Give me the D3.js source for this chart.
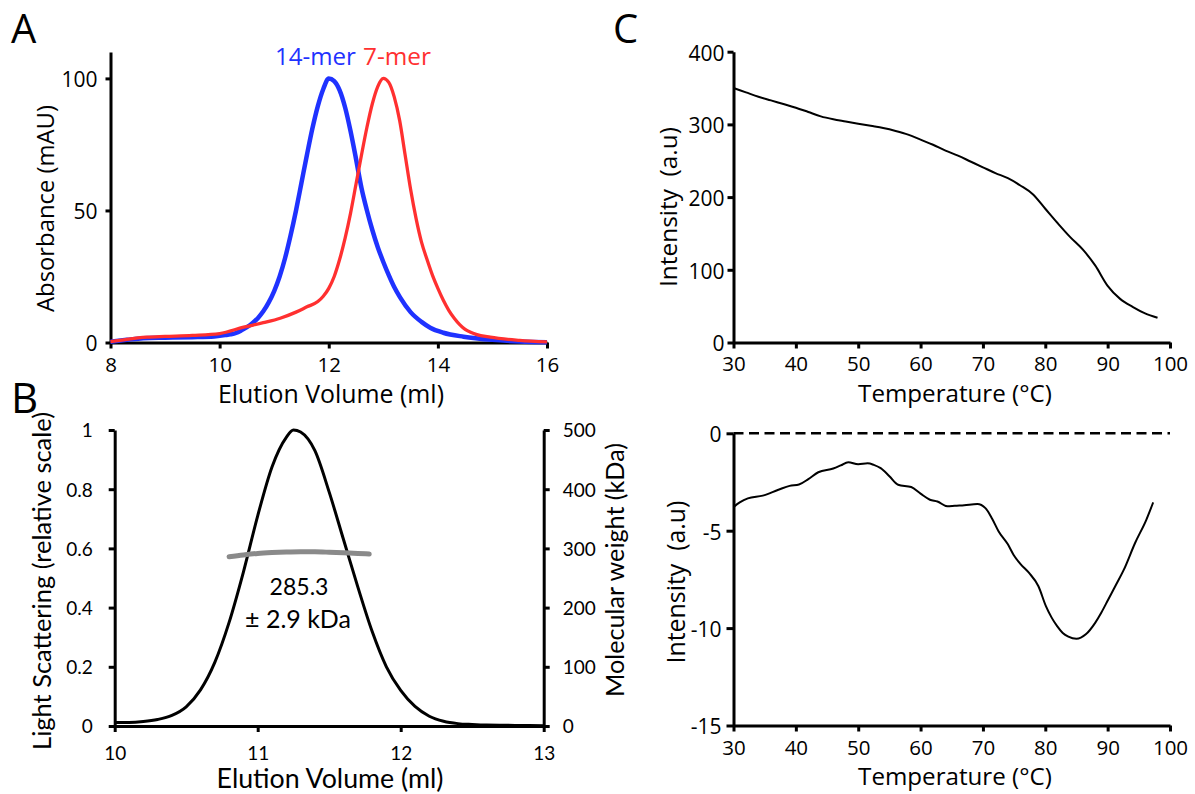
<!DOCTYPE html>
<html><head><meta charset="utf-8">
<script src="https://cdn.jsdelivr.net/npm/d3@7"></script>
<style>
body{margin:0;background:#fff;}
</style></head><body>
<svg id="fig" width="1195" height="794" style="display:block;background:#fff"></svg>
<script>
// ===== Panel A data =====
const aTicksX = [8, 10, 12, 14, 16];
const aTicksY = [0, 50, 100];
const seriesLabels = ["14-mer", "7-mer"];
const blueX = [8.0,8.3,8.6,9.0,9.5,9.9,10.1,10.2,10.3,10.4,10.5,10.6,10.7,10.8,10.9,11.0,11.1,11.2,11.3,11.4,11.5,11.6,11.7,11.8,11.9,12.0,12.1,12.2,12.3,12.4,12.5,12.6,12.7,12.8,12.9,13.0,13.1,13.2,13.31,13.5,13.7,13.86,14.1,14.47,15.0,15.5,16.0];
const blueY = [0.3,1.0,1.6,1.8,2.0,2.3,2.8,3.1,3.6,4.6,5.8,7.3,9.2,11.8,15.2,19.5,25,32,40.5,50,60.5,71,81,89.5,96,100,99,95.5,89,80,69.5,58.5,50,42.5,36,30.5,25.5,21,17,11.5,7.8,5.6,3.7,2.2,1.0,0.4,0.1];
const redX = [8.0,8.3,8.67,9.0,9.5,10.0,10.44,10.8,11.11,11.4,11.6,11.8,11.9,12.0,12.1,12.2,12.3,12.4,12.5,12.6,12.7,12.8,12.9,13.0,13.1,13.2,13.3,13.4,13.5,13.6,13.7,13.8,13.9,14.0,14.1,14.2,14.3,14.4,14.5,14.6,14.7,14.96,15.5,16.0];
const redY = [0.3,1.2,2.0,2.3,2.7,3.4,5.8,7.5,9.2,11.5,13.5,15.5,17.5,20.5,25,31.5,39.5,49,60,71,81.5,90.5,97,100,98.5,93,84,71,58,47,38,31.5,25.5,20.5,16,12.2,9.2,6.8,5.0,3.9,3.1,2.0,0.8,0.2];

// ===== Panel B data =====
const bTicksX = [10, 11, 12, 13];
const bTicksLeft = [0, 0.2, 0.4, 0.6, 0.8, 1];
const bTicksRight = [0, 100, 200, 300, 400, 500];
const lsX = [10.0,10.1,10.2,10.3,10.4,10.5,10.6,10.7,10.8,10.9,11.0,11.1,11.2,11.25,11.3,11.4,11.5,11.6,11.7,11.8,11.9,12.0,12.1,12.2,12.3,12.4,12.5,12.6,12.8,13.0];
const lsY = [0.012,0.012,0.015,0.022,0.036,0.065,0.122,0.215,0.35,0.52,0.71,0.875,0.975,1.0,0.993,0.93,0.79,0.63,0.47,0.32,0.2,0.12,0.066,0.033,0.016,0.008,0.005,0.003,0.002,0.001];
const mwX = [10.8,10.9,11.0,11.1,11.2,11.3,11.4,11.5,11.6,11.7,11.78];
const mwY = [286,289,291.5,293,294,294.5,294.3,293.5,292.5,291.5,290.5];
const mwLabel = ["285.3", "\u00B1 2.9 kDa"];

// ===== Panel C data =====
const cTicksX = [30, 40, 50, 60, 70, 80, 90, 100];
const cTopTicksY = [0, 100, 200, 300, 400];
const cBotTicksY = [0, -5, -10, -15];
const tempTopX = [30,32,34,36,38,40,42,44,46,48,50,52,54,56,58,60,62,64,66,68,70,72,74,76,78,80,82,84,86,88,90,92,94,96,98];
const tempTopY = [350,344,338,333,328,323,317,311,307,304,301,298,295,291,286,279,272,264,257,249,241,233,226,216,204,184,164,145,128,106,78,60,49,40,34];
const tempBotX = [30,31,32.3,34.7,37.2,39,40.5,42,43.6,46,47.2,48.4,50,51.5,52.5,53.6,55,56.4,58.5,60,61.5,62.7,64.3,65.5,67,69.1,70.4,71.5,72.5,74,74.9,76,77.4,78.9,80.1,81,81.9,82.8,83.7,85,86.5,88,89,90.1,91.3,92.6,94.4,96.2,97.3];
const tempBotY = [-3.79,-3.55,-3.34,-3.2,-2.9,-2.7,-2.63,-2.35,-2.0,-1.81,-1.65,-1.48,-1.59,-1.54,-1.62,-1.79,-2.2,-2.64,-2.76,-3.1,-3.41,-3.5,-3.75,-3.72,-3.69,-3.63,-3.84,-4.4,-5.03,-5.7,-6.23,-6.7,-7.17,-7.85,-8.87,-9.45,-9.9,-10.25,-10.44,-10.55,-10.32,-9.73,-9.2,-8.53,-7.8,-7.0,-5.63,-4.44,-3.55];

// ===== drawing =====
const svg = d3.select("#fig");
const FA = "'Open Sans', 'DejaVu Sans', sans-serif";
const FB = "Lato, 'Open Sans', sans-serif";

function styleAxis(g, font, size) {
  g.attr("font-size", null).attr("font-family", null);
  g.select(".domain").attr("stroke", "#000").attr("stroke-width", 3);
  g.selectAll(".tick line").attr("stroke", "#000").attr("stroke-width", 3);
  g.selectAll(".tick text").attr("fill", "#000").style("font-family", font).style("font-size", size + "px");
}
function fit(sel, target) {
  const L = sel.node().getComputedTextLength();
  const fs = parseFloat(sel.style("font-size"));
  sel.style("font-size", (fs * target / L) + "px");
  return sel;
}
function label(txt, x, y, font, size, opts = {}) {
  const t = svg.append("text").text(txt)
    .attr("text-anchor", opts.anchor || "middle")
    .attr("fill", opts.color || "#000")
    .style("font-family", font).style("font-size", size + "px")
    .style("white-space", "pre");
  if (opts.rotate) t.attr("transform", `translate(${x},${y}) rotate(-90)`);
  else t.attr("x", x).attr("y", y);
  if (opts.fit) fit(t, opts.fit);
  return t;
}
const fmt = d => String(d);

// ---------- Panel A ----------
const xA = d3.scaleLinear([8, 16], [110.5, 547]);
const yA = d3.scaleLinear([0, 110], [342.5, 52]);
const gAx = svg.append("g").attr("transform", `translate(0,${yA(0)})`)
  .call(d3.axisBottom(xA).tickValues(aTicksX).tickFormat(fmt).tickSize(6).tickSizeOuter(0));
styleAxis(gAx, FA, 20.5);
gAx.selectAll(".tick text").attr("y", 29).attr("dy", null);
const gAy = svg.append("g").attr("transform", `translate(${xA(8)},0)`)
  .call(d3.axisLeft(yA).tickValues(aTicksY).tickFormat(fmt).tickSize(5).tickSizeOuter(0));
styleAxis(gAy, FA, 21);
gAy.selectAll(".tick text").attr("x", -13).attr("dy", "0.4em");

const lineA = d3.line().x(d => xA(d[0])).y(d => yA(d[1])).curve(d3.curveMonotoneX);
svg.append("path").datum(blueX.map((x, i) => [x, blueY[i]]))
  .attr("d", lineA).attr("fill", "none").attr("stroke", "#1f32ff").attr("stroke-width", 4.5).attr("stroke-linejoin", "round");
svg.append("path").datum(redX.map((x, i) => [x, redY[i]]))
  .attr("d", lineA).attr("fill", "none").attr("stroke", "#ff3030").attr("stroke-width", 3.3).attr("stroke-linejoin", "round");

label(seriesLabels[0], 275, 65, FA, 24, {anchor: "start", color: "#1f32ff", fit: 81});
label(seriesLabels[1], 363, 65, FA, 24, {anchor: "start", color: "#ff3030", fit: 68});
label("Elution Volume (ml)", 331, 403, FA, 23, {fit: 226});
label("Absorbance (mAU)", 54, 208.5, FA, 23, {rotate: true, fit: 207});
label("A", 11, 43, FA, 40, {anchor: "start"});

// ---------- Panel B ----------
const xB = d3.scaleLinear([10, 13], [114.7, 543.7]);
const yB = d3.scaleLinear([0, 1], [726, 430]);
const yBR = d3.scaleLinear([0, 500], [726, 430]);
const gBx = svg.append("g").attr("transform", `translate(0,${yB(0)})`)
  .call(d3.axisBottom(xB).tickValues(bTicksX).tickFormat(fmt).tickSize(6).tickSizeOuter(0));
styleAxis(gBx, FB, 19);
gBx.selectAll(".tick text").attr("y", 34).attr("dy", null);
const gBl = svg.append("g").attr("transform", `translate(${xB(10)},0)`)
  .call(d3.axisLeft(yB).tickValues(bTicksLeft).tickFormat(fmt).tickSize(6).tickSizeOuter(0));
styleAxis(gBl, FB, 19);
gBl.selectAll(".tick text").attr("x", -22).attr("dy", "0.36em");
const gBr = svg.append("g").attr("transform", `translate(${xB(13)},0)`)
  .call(d3.axisRight(yBR).tickValues(bTicksRight).tickFormat(fmt).tickSize(6).tickSizeOuter(0));
styleAxis(gBr, FB, 19);
gBr.selectAll(".tick text").attr("x", 19).attr("dy", "0.36em");

const lineB = d3.line().x(d => xB(d[0])).y(d => yB(d[1])).curve(d3.curveMonotoneX);
svg.append("path").datum(lsX.map((x, i) => [x, lsY[i]]))
  .attr("d", lineB).attr("fill", "none").attr("stroke", "#000").attr("stroke-width", 3);
const lineMW = d3.line().x(d => xB(d[0])).y(d => yBR(d[1])).curve(d3.curveMonotoneX);
svg.append("path").datum(mwX.map((x, i) => [x, mwY[i]]))
  .attr("d", lineMW).attr("fill", "none").attr("stroke", "#8a8a8a").attr("stroke-width", 5).attr("stroke-linecap", "round");

label(mwLabel[0], 299, 595, FB, 24, {fit: 59});
label(mwLabel[1], 298, 628, FB, 24, {fit: 106});
label("Elution Volume (ml)", 330, 788, FB, 24, {fit: 227});
label("Light Scattering (relative scale)", 51, 581, FB, 24, {rotate: true, fit: 338});
label("Molecular weight (kDa)", 624, 570, FB, 24, {rotate: true, fit: 254});
label("B", 11, 413, FA, 42, {anchor: "start"});

// ---------- Panel C ----------
const xC = d3.scaleLinear([30, 100], [733.5, 1170]);
const yCt = d3.scaleLinear([0, 400], [342.5, 51.7]);
const yCb = d3.scaleLinear([-15, 0], [725.5, 433.3]);

const gCtx = svg.append("g").attr("transform", `translate(0,${yCt(0)})`)
  .call(d3.axisBottom(xC).tickValues(cTicksX).tickFormat(fmt).tickSize(6).tickSizeOuter(0));
styleAxis(gCtx, FA, 20.5);
gCtx.selectAll(".tick text").attr("y", 28).attr("dy", null);
const gCty = svg.append("g").attr("transform", `translate(${xC(30)},0)`)
  .call(d3.axisLeft(yCt).tickValues(cTopTicksY).tickFormat(fmt).tickSize(6).tickSizeOuter(0));
styleAxis(gCty, FA, 21);
gCty.selectAll(".tick text").attr("x", -9).attr("dy", "0.4em");

const gCbx = svg.append("g").attr("transform", `translate(0,${yCb(-15)})`)
  .call(d3.axisBottom(xC).tickValues(cTicksX).tickFormat(fmt).tickSize(6).tickSizeOuter(0));
styleAxis(gCbx, FA, 20.5);
gCbx.selectAll(".tick text").attr("y", 29.5).attr("dy", null);
const gCby = svg.append("g").attr("transform", `translate(${xC(30)},0)`)
  .call(d3.axisLeft(yCb).tickValues(cBotTicksY).tickFormat(fmt).tickSize(7).tickSizeOuter(0));
styleAxis(gCby, FA, 21);
gCby.selectAll(".tick text").attr("x", -12).attr("dy", "0.4em");

svg.append("line").attr("x1", xC(30)).attr("x2", xC(100)).attr("y1", yCb(0)).attr("y2", yCb(0))
  .attr("stroke", "#000").attr("stroke-width", 2.5).attr("stroke-dasharray", "10,5.5");

const lineCt = d3.line().x(d => xC(d[0])).y(d => yCt(d[1])).curve(d3.curveMonotoneX);
svg.append("path").datum(tempTopX.map((x, i) => [x, tempTopY[i]]))
  .attr("d", lineCt).attr("fill", "none").attr("stroke", "#000").attr("stroke-width", 2);
const lineCb = d3.line().x(d => xC(d[0])).y(d => yCb(d[1])).curve(d3.curveMonotoneX);
svg.append("path").datum(tempBotX.map((x, i) => [x, tempBotY[i]]))
  .attr("d", lineCb).attr("fill", "none").attr("stroke", "#000").attr("stroke-width", 2);

label("Temperature (\u00B0C)", 955, 401.5, FA, 23, {fit: 194});
label("Temperature (\u00B0C)", 955, 785, FA, 23, {fit: 194});
label("Intensity  (a.u)", 677, 207, FA, 23, {rotate: true, fit: 160});
label("Intensity  (a.u)", 685, 582, FA, 23, {rotate: true, fit: 163});
label("C", 613, 43, FA, 40, {anchor: "start"});
</script>
</body></html>
